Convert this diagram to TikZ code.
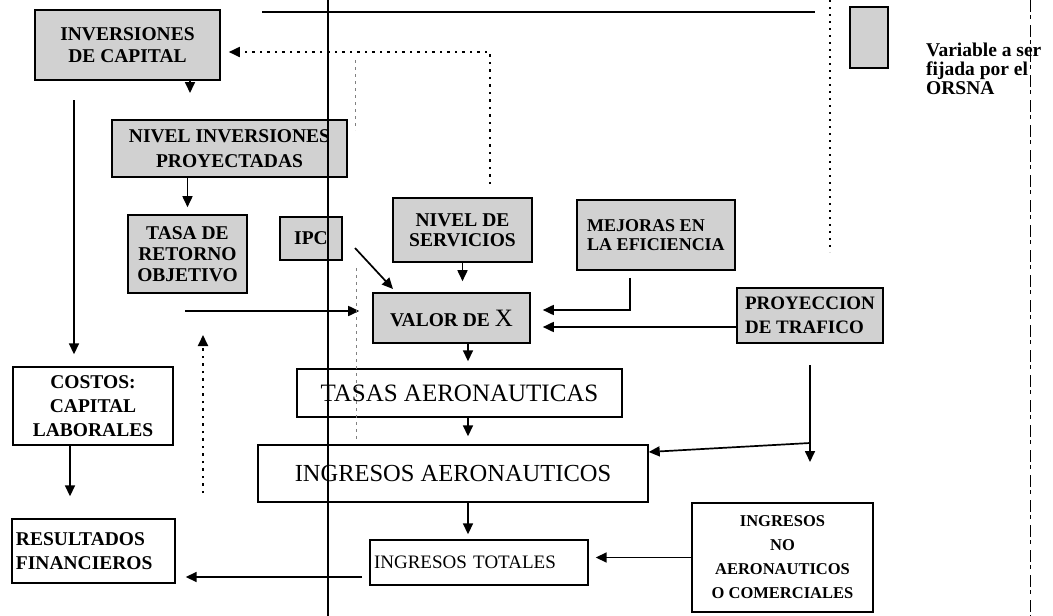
\documentclass[tikz,border=0pt]{standalone}
\usepackage{fontspec}
\setmainfont{Liberation Serif}
\usetikzlibrary{arrows.meta}

\begin{document}
\begin{tikzpicture}[
	x=1pt, y=-1pt,
	>={Triangle[length=11pt,width=10pt]},
	box/.style={draw, line width=1.6pt, inner sep=3pt, align=center,
		font=\bfseries\fontsize{19.5}{22}\selectfont},
	var box/.style={box, fill=black!18},
	out box/.style={draw, line width=1.4pt, inner sep=3pt, align=center},
	box size/.style 2 args={minimum width=#1, minimum height=#2},
	flow/.style={->, line width=1.7pt},
	feedback/.style={->, line width=1.8pt, dash pattern=on 2.5pt off 5pt},
	scan line/.style={line width=1.2pt}
	]
	\useasboundingbox (0,0) rectangle (1053,616);
	
	% variables fijadas por el ORSNA
	\node[var box, box size={185}{70}] (invcap) at (127.5,45) {INVERSIONES\\DE CAPITAL};
	\node[var box, box size={235}{57}, font=\bfseries\fontsize{19.5}{25}\selectfont] (nivinv) at (229.5,148.5) {NIVEL INVERSIONES\\PROYECTADAS};
	\node[var box, box size={119}{78}, font=\bfseries\fontsize{19.5}{21}\selectfont] (tasaret) at (187.5,254) {TASA DE\\RETORNO\\OBJETIVO};
	\node[var box, box size={62}{43}] (ipc) at (311,238.5) {IPC};
	\node[var box, box size={139}{64}, font=\bfseries\fontsize{19.5}{20}\selectfont] (nivserv) at (462.5,230) {NIVEL DE\\SERVICIOS};
	\node[var box, box size={158}{70}, align=left, font=\bfseries\fontsize{18}{19}\selectfont] (mejoras) at (656,235) {MEJORAS EN\\LA EFICIENCIA};
	\node[var box, box size={157}{50}] (valor) at (451.5,318) {VALOR DE {\mdseries\fontsize{25}{25}\selectfont X}};
	\node[var box, box size={146}{55}, align=left, font=\bfseries\fontsize{19}{24}\selectfont] (proy) at (810,315.5) {PROYECCION\\DE TRAFICO};
	
	% resultados
	\node[out box, box size={160}{78}, font=\bfseries\fontsize{19.5}{24}\selectfont] (costos) at (93,406) {COSTOS:\\CAPITAL\\LABORALES};
	\node[out box, box size={325}{48}, font=\fontsize{25}{28}\selectfont] (tasas) at (459.5,393) {TASAS AERONAUTICAS};
	\node[out box, box size={390}{57}, font=\fontsize{24.5}{28}\selectfont] (ingaero) at (453,473.5) {INGRESOS AERONAUTICOS};
	\node[out box, box size={163}{64}, text width=155, align=left, font=\bfseries\fontsize{19.5}{24}\selectfont] (result) at (93.5,551) {RESULTADOS\\FINANCIEROS};
	\node[out box, box size={218}{45}, text width=210, align=left, font=\fontsize{19}{22}\selectfont] (ingtot) at (479,562.5) {INGRESOS TOTALES};
	\node[out box, box size={181}{109}, font=\bfseries\fontsize{16.5}{24}\selectfont] (noaero) at (782.5,557.5) {INGRESOS\\NO\\AERONAUTICOS\\O COMERCIALES};
	
	% leyenda
	\node[var box, box size={38}{61}] (legend) at (869,37.5) {};
	\node[anchor=north west, align=left, inner sep=0pt, font=\bfseries\fontsize{19.5}{19}\selectfont] (legtext) at (926,43) {Variable a ser\\fijada por el\\ORSNA};
	
	\coordinate (invstub) at (190,93);
	\coordinate (spinetop) at (74,100);
	\coordinate (tasaout) at (185,311);
	\coordinate (ipcout) at (355,248);
	\coordinate (ipcin) at (393,289);
	\coordinate (mejbend) at (630,310);
	\coordinate (proyout) at (737,327);
	\coordinate (proydown) at (810,365);
	\coordinate (proyfork) at (810,443);
	\coordinate (proyend) at (810,462);
	\coordinate (col) at (468,0);
	\coordinate (costcol) at (70,0);
	\coordinate (totout) at (362,577);
	\coordinate (dotcorner) at (490,52);
	\coordinate (dotbase) at (203,493);
	\coordinate (dottip) at (203,335);
	
	\draw[flow] (invcap.south -| invstub) -- (invstub);
	\draw[flow, shorten >=12pt] (spinetop) -- (spinetop |- costos.north);
	\draw[flow, shorten >=7pt] (nivinv.south -| tasaret.north) -- (tasaret.north);
	\draw[flow, shorten >=13pt] (tasaout) -- (tasaout -| valor.west);
	\draw[flow] (ipcout) -- (ipcin);
	\draw[flow, shorten >=11pt] (nivserv.south) -- (nivserv.south |- valor.north);
	\draw[flow, shorten <=7pt, shorten >=12pt] (mejoras.south -| mejbend) -- (mejbend) -- (mejbend -| valor.east);
	\draw[flow, shorten >=12pt] (proyout) -- (proyout -| valor.east);
	\draw[flow, shorten >=7pt] (valor.south -| col) -- (tasas.north -| col);
	\draw[flow, shorten >=8pt] (tasas.south -| col) -- (ingaero.north -| col);
	\draw[flow, shorten >=5pt] (ingaero.south -| col) -- (ingtot.north -| col);
	\draw[flow] (proydown) -- (proyend);
	\draw[flow] (proyfork) -- ([yshift=21.5pt]ingaero.east);
	\draw[flow, shorten >=7pt] (noaero.west) -- (noaero.west -| ingtot.east);
	\draw[flow, shorten >=10pt] (totout) -- (totout -| result.east);
	\draw[flow, shorten >=22pt] (costos.south -| costcol) -- (result.north -| costcol);
	\draw[feedback, shorten <=13pt, shorten >=8pt] (nivserv.north -| dotcorner) -- (dotcorner) -- (dotcorner -| invcap.east);
	\draw[feedback] (dotbase) -- (dottip);
	
	% marcas del escaneo
	\draw[line width=2pt] (262,12) -- (815,12);
	\draw[scan line] (328,0) -- (328,616);
	\draw[line width=1.4pt, dash pattern=on 2pt off 5pt] (830,0) -- (830,252);
	\draw[line width=1pt, dash pattern=on 12pt off 3pt on 4pt off 6pt] (1030,0) -- (1030,616);
	\draw[black!50, line width=0.8pt, dash pattern=on 3pt off 4pt] (355,60) -- (355,130);
	\draw[black!50, line width=0.8pt, dash pattern=on 3pt off 4pt] (356,268) -- (356,440);
\end{tikzpicture}
\end{document}
